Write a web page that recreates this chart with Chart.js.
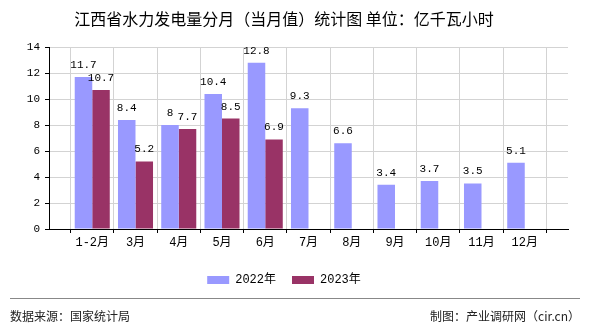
<!DOCTYPE html>
<html>
<head>
<meta charset="utf-8">
<script src="https://cdn.jsdelivr.net/npm/chart.js@4/dist/chart.umd.min.js"></script>
<style>
    body { margin: 0; background: #fff; }
    #hydroChart { display: block; }
</style>
</head>
<body>
<canvas id="hydroChart" width="590" height="330"></canvas>
<script>
// Monthly hydro output, Jiangxi (100M kWh)
const months = ['1-2月', '3月', '4月', '5月', '6月', '7月', '8月', '9月', '10月', '11月', '12月'];
const output2022 = [11.7, 8.4, 8, 10.4, 12.8, 9.3, 6.6, 3.4, 3.7, 3.5, 5.1];
const output2023 = [10.7, 5.2, 7.7, 8.5, 6.9, null, null, null, null, null, null];
const yTicks = [0, 2, 4, 6, 8, 10, 12, 14];

const NUM_FONT = '"Liberation Mono", "Noto Sans CJK SC", monospace';
const CJK_FONT = '"Noto Sans CJK SC", sans-serif';

// empty slot on each side so labels sit on the grid lines
const padded = arr => [null, ...arr, null];

/**
 * Value labels above each bar
 */
const barValues = {
    id: 'barValues',
    afterDatasetsDraw(chart) {
        const ctx = chart.ctx;
        ctx.save();
        ctx.font = '11px ' + NUM_FONT;
        ctx.fillStyle = '#000';
        ctx.textAlign = 'center';
        ctx.textBaseline = 'middle';
        chart.data.datasets.forEach((ds, i) => {
            chart.getDatasetMeta(i).data.forEach((bar, j) => {
                const v = ds.data[j];
                if (v === null || v === undefined) return;
                ctx.fillText(String(v), bar.x, bar.y - 12);
            });
        });
        ctx.restore();
    }
};

/**
 * Source line at the bottom
 */
const footer = {
    id: 'footer',
    afterDraw(chart) {
        const ctx = chart.ctx;
        ctx.save();
        ctx.strokeStyle = '#888';
        ctx.lineWidth = 1;
        ctx.beginPath();
        ctx.moveTo(10, 298.5);
        ctx.lineTo(580, 298.5);
        ctx.stroke();

        ctx.font = '12px ' + CJK_FONT;
        ctx.fillStyle = '#222';
        ctx.textBaseline = 'middle';
        ctx.textAlign = 'left';
        ctx.fillText('数据来源：国家统计局', 10, 316);
        ctx.textAlign = 'right';
        ctx.fillText('制图：产业调研网（cir.cn）', 580, 316);
        ctx.restore();
    }
};

new Chart(document.getElementById('hydroChart'), {
    type: 'bar',
    data: {
        labels: padded(months).map(m => m || ''),
        datasets: [
            {
                label: '2022年',
                data: padded(output2022),
                backgroundColor: '#9999ff',
                categoryPercentage: 0.81,
                barPercentage: 1
            },
            {
                label: '2023年',
                data: padded(output2023),
                backgroundColor: '#993366',
                categoryPercentage: 0.81,
                barPercentage: 1
            }
        ]
    },
    options: {
        responsive: false,
        animation: false,
        layout: {
            padding: { left: 0, right: 22, top: 0, bottom: 34 }
        },
        plugins: {
            title: {
                display: true,
                text: '江西省水力发电量分月（当月值）统计图 单位：亿千瓦小时',
                color: '#000',
                font: { size: 16, family: CJK_FONT, weight: 'normal' },
                padding: { top: 9, bottom: 19 }
            },
            legend: {
                position: 'bottom',
                labels: {
                    boxWidth: 22,
                    boxHeight: 8,
                    padding: 16,
                    color: '#000',
                    font: { size: 12, family: NUM_FONT }
                }
            },
            tooltip: { enabled: false }
        },
        scales: {
            x: {
                offset: false,
                grid: {
                    color: '#d3d3d3',
                    tickColor: '#000',
                    tickLength: 4
                },
                border: { color: '#000' },
                ticks: {
                    color: '#000',
                    padding: 3,
                    maxRotation: 0,
                    autoSkip: false,
                    font: { size: 12, family: NUM_FONT }
                },
                afterFit(scale) { scale.height = 29; }
            },
            y: {
                min: yTicks[0],
                max: yTicks[yTicks.length - 1],
                afterBuildTicks(scale) { scale.ticks = yTicks.map(v => ({ value: v })); },
                grid: {
                    color: '#d3d3d3',
                    tickColor: '#000',
                    tickLength: 4
                },
                border: { color: '#000' },
                ticks: {
                    color: '#000',
                    padding: 5,
                    font: { size: 11, family: NUM_FONT }
                },
                afterFit(scale) { scale.width = 49; }
            }
        }
    },
    plugins: [barValues, footer]
});
</script>
</body>
</html>
